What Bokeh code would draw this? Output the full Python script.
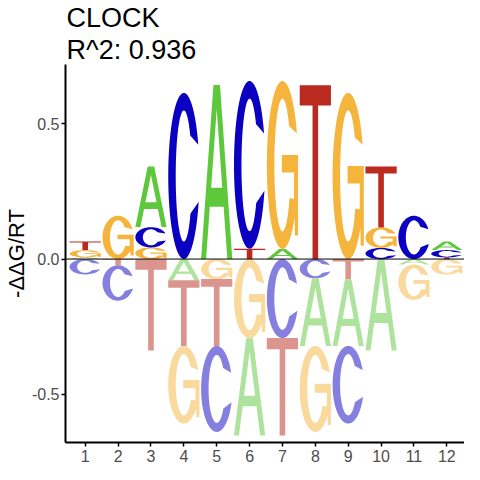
import numpy as np
from bokeh.plotting import figure
from bokeh.models import Title, Span, Range1d, FixedTicker, NumeralTickFormatter, ColumnDataSource
from bokeh.embed import file_html
from bokeh.resources import INLINE

# ---- data (-ddG/RT per base and position) ----
positions = [1, 2, 3, 4, 5, 6, 7, 8, 9, 10, 11, 12]
val_A = [0.006, 0.000, 0.224, -0.078, 0.643, -0.359, 0.037, -0.250, -0.245, -0.338, -0.020, 0.032]
val_C = [-0.057, -0.131, 0.075, 0.614, -0.318, 0.620, -0.292, -0.071, -0.287, 0.041, 0.160, 0.027]
val_G = [0.027, 0.160, 0.043, -0.287, -0.074, -0.293, 0.621, -0.318, 0.614, 0.076, -0.131, -0.057]
val_T = [0.032, -0.023, -0.338, -0.243, -0.247, 0.038, -0.360, 0.642, -0.076, 0.225, 0.000, 0.006]
bases = ["A", "C", "G", "T"]
title_main = "CLOCK"
title_sub = "R^2: 0.936"
y_label = "-\u0394\u0394G/RT"
y_ticks = [-0.5, 0.0, 0.5]

colors_pos = {"A": "#5DC83C", "C": "#0B00C2", "G": "#F5B43C", "T": "#BA2A1E"}
colors_neg = {"A": "#AEE39D", "C": "#8580E0", "G": "#FAD99D", "T": "#DC948E"}

LETTER_W = 0.95


def arc(cx, cy, rx, ry, t0, t1, n=60):
    t = np.radians(np.linspace(t0, t1, n))
    return list(cx + rx * np.cos(t)), list(cy + ry * np.sin(t))


def unit_shape(b):
    """Return list of polygons; each polygon = list of rings (x list, y list)."""
    if b == "T":
        x = [0, 1, 1, 0.59, 0.59, 0.41, 0.41, 0]
        y = [1, 1, 0.884, 0.884, 0, 0, 0.884, 0.884]
        return [[(x, y)]]
    if b == "A":
        ox = [0, 0.16, 0.2785, 0.7215, 0.84, 1, 0.605, 0.395]
        oy = [0, 0, 0.30, 0.30, 0, 0, 1, 1]
        hx = [0.322, 0.678, 0.5]
        hy = [0.41, 0.41, 0.861]
        return [[(ox, oy), (hx, hy)]]
    if b == "C":
        ox, oy = arc(0.5, 0.5, 0.5, 0.5, 22, 342)
        ix, iy = arc(0.5, 0.5, 0.26, 0.395, 325, 38)
        return [[(ox + ix, oy + iy)]]
    if b == "G":
        ox, oy = arc(0.5, 0.5, 0.5, 0.5, 22, 321.3)
        sx = [0.90, 1.0, 1.0, 0.48, 0.48, 0.87, 0.87]
        sy = [0.08, 0.08, 0.56, 0.56, 0.455, 0.455, 0.30]
        ix, iy = arc(0.5, 0.5, 0.26, 0.395, 330, 36)
        return [[(ox + sx + ix, oy + sy + iy)]]


series = {"A": val_A, "C": val_C, "G": val_G, "T": val_T}
xs_all, ys_all, fill = [], [], []
for i, p in enumerate(positions):
    vals = {b: series[b][i] for b in bases}
    pos_items = sorted([(v, b) for b, v in vals.items() if v > 0])
    neg_items = sorted([(-v, b) for b, v in vals.items() if v < 0])
    boxes = []
    y0 = 0.0
    for v, b in pos_items:
        boxes.append((b, y0, v, colors_pos[b]))
        y0 += v
    y0 = 0.0
    for m, b in neg_items:
        boxes.append((b, y0 - m, m, colors_neg[b]))
        y0 -= m
    for b, ybot, h, col in boxes:
        polys = []
        for poly in unit_shape(b):
            rings_x, rings_y = [], []
            for (ux, uy) in poly:
                rings_x.append([p - LETTER_W / 2 + u * LETTER_W for u in ux])
                rings_y.append([ybot + v * h for v in uy])
            polys.append((rings_x, rings_y))
        xs_all.append([px for px, py in polys])
        ys_all.append([py for px, py in polys])
        fill.append(col)

src = ColumnDataSource(dict(xs=xs_all, ys=ys_all, color=fill))

p = figure(width=464, height=464, output_backend="svg", toolbar_location=None,
           x_range=Range1d(0.4, 12.538), y_range=Range1d(-0.678, 0.719),
           min_border_left=58, min_border_right=0, min_border_bottom=22, min_border_top=60)
p.title.text = title_main
p.title.text_font = "Liberation Sans"
p.title.text_font_size = "27px"
p.title.text_font_style = "normal"
p.title.text_color = "black"
p.title.standoff = 0
p.title.offset = 1
t2 = Title(text=title_sub, text_font="Liberation Sans", text_font_size="27px",
           text_font_style="normal", text_color="black", standoff=0, offset=1)
p.add_layout(t2, "above")

p.multi_polygons(xs="xs", ys="ys", fill_color="color", line_color=None, source=src)
p.add_layout(Span(location=0, dimension="width", line_color="black", line_width=1))

p.outline_line_color = None
p.xgrid.visible = False
p.ygrid.visible = False
p.background_fill_color = "white"
p.border_fill_color = "white"

for ax in (p.xaxis[0], p.yaxis[0]):
    ax.axis_line_color = "black"
    ax.axis_line_width = 2
    ax.major_tick_line_color = "black"
    ax.major_tick_line_width = 1.5
    ax.major_tick_out = 4
    ax.major_tick_in = 0
    ax.minor_tick_line_color = None
    ax.major_label_text_font = "Liberation Sans"
    ax.major_label_text_font_size = "16px"
    ax.major_label_text_color = "#4D4D4D"

p.xaxis.ticker = FixedTicker(ticks=positions)
p.xaxis.major_label_standoff = 3
p.yaxis.ticker = FixedTicker(ticks=y_ticks)
p.yaxis.formatter = NumeralTickFormatter(format="0.0")
p.yaxis.major_label_standoff = 2
p.yaxis.axis_label = y_label
p.yaxis.axis_label_text_font = "Liberation Sans"
p.yaxis.axis_label_text_font_size = "22px"
p.yaxis.axis_label_text_font_style = "normal"
p.yaxis.axis_label_text_color = "black"
p.yaxis.axis_label_standoff = 0

open("out.html", "w").write(file_html(p, INLINE))
